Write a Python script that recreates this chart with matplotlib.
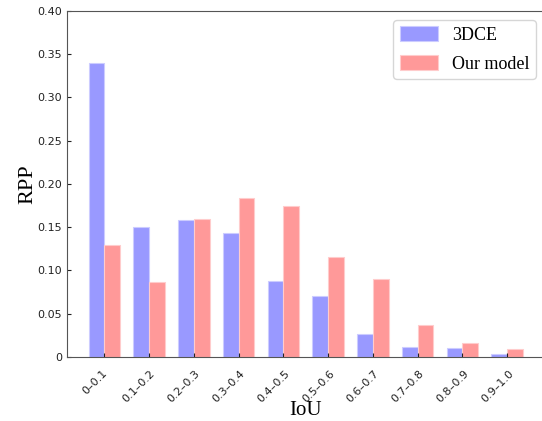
import numpy as np
import matplotlib
matplotlib.use("Agg")
import matplotlib.pyplot as plt
import matplotlib.transforms as mtransforms
from matplotlib.ticker import FuncFormatter

# IoU bins and RPP values
bins = ["0\u20130.1", "0.1\u20130.2", "0.2\u20130.3", "0.3\u20130.4", "0.4\u20130.5",
        "0.5\u20130.6", "0.6\u20130.7", "0.7\u20130.8", "0.8\u20130.9", "0.9\u20131.0"]
rpp_3dce = [0.340, 0.150, 0.158, 0.143, 0.088, 0.071, 0.027, 0.012, 0.010, 0.004]
rpp_ours = [0.130, 0.087, 0.160, 0.184, 0.175, 0.116, 0.090, 0.037, 0.016, 0.009]

fig = plt.figure(figsize=(5.42, 4.21), dpi=100)
ax = fig.add_axes([0.1236, 0.152, 0.881, 0.822])

x = np.arange(len(bins))
w = 0.35
ax.bar(x, rpp_3dce, width=-w, align="edge", color="#9999ff",
       edgecolor="#ccccff", linewidth=0.8, label="3DCE")
ax.bar(x, rpp_ours, width=w, align="edge", color="#ff9999",
       edgecolor="#ffcccc", linewidth=0.8, label="Our model")

ax.set_ylim(0, 0.40)
ax.set_yticks(np.arange(0, 0.41, 0.05))
ax.yaxis.set_major_formatter(FuncFormatter(lambda v, p: "0" if v == 0 else f"{v:.2f}"))
ax.set_xticks(x)
ax.set_xticklabels(bins, rotation=45, ha="center", fontsize=8)
ax.tick_params(axis="both", direction="in", labelsize=8, colors="#222222", length=3)
ax.tick_params(axis="x", pad=8)

# labels sit a bit left of their ticks in the original
shift = mtransforms.ScaledTranslation(-0.10, 0, fig.dpi_scale_trans)
for lab in ax.get_xticklabels():
    lab.set_transform(lab.get_transform() + shift)

for s in ax.spines.values():
    s.set_color("#555555")

ax.set_xlabel("IoU", family="Liberation Serif", fontsize=15, labelpad=-2)
ax.set_ylabel("RPP", family="Liberation Serif", fontsize=16, labelpad=0)

leg = ax.legend(loc="upper right", bbox_to_anchor=(0.982, 0.974), borderaxespad=0,
                prop={"family": "Liberation Serif", "size": 13},
                handlelength=2.1, handleheight=0.9, borderpad=0.35,
                labelspacing=0.6, handletextpad=0.8)

plt.savefig("out.png", dpi=100)
